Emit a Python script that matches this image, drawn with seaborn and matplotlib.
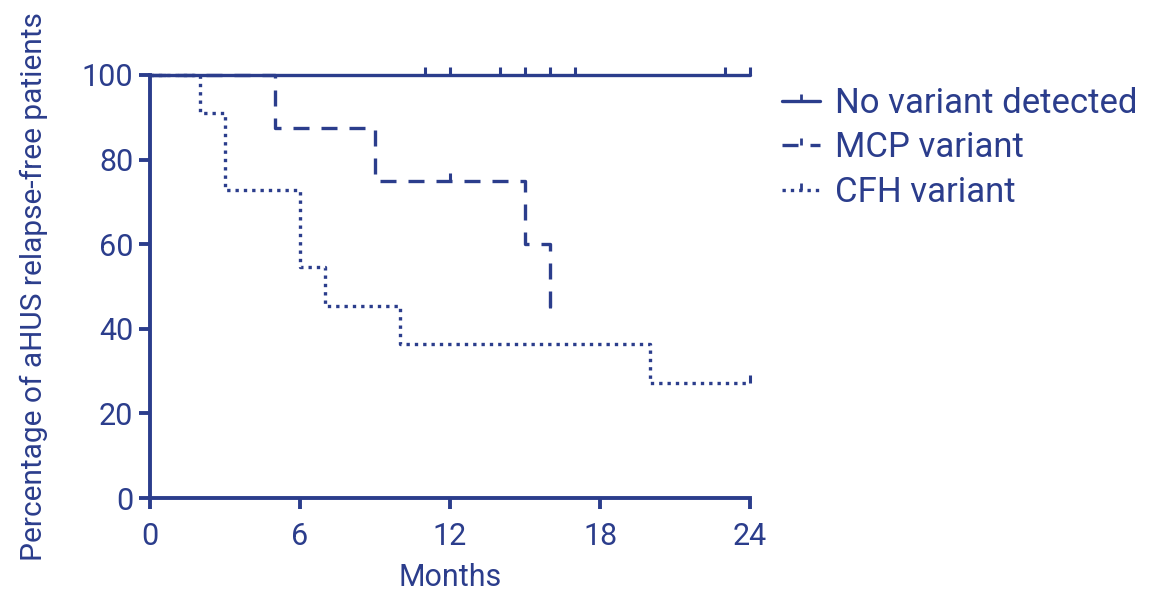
import matplotlib
matplotlib.use("Agg")
import matplotlib.pyplot as plt
import seaborn as sns
import pandas as pd
from matplotlib.path import Path
from matplotlib.lines import Line2D

# Data (Kaplan-Meier step points, months / percent)
none_t = [0, 24]
none_s = [100, 100]
none_cens_t = [11, 12, 14, 15, 16, 17, 23, 24]
none_cens_s = [100, 100, 100, 100, 100, 100, 100, 100]

mcp_t = [0, 5, 9, 15, 16]
mcp_s = [100, 87.5, 75, 60, 45]
mcp_cens_t = [12, 16]
mcp_cens_s = [75, 45]

cfh_t = [0, 2, 3, 6, 7, 10, 20, 24]
cfh_s = [100, 90.9, 72.7, 54.5, 45.5, 36.4, 27.3, 27.3]
cfh_cens_t = [24]
cfh_cens_s = [27.3]

labels = ["No variant detected", "MCP variant", "CFH variant"]
x_ticks = [0, 6, 12, 18, 24]
y_ticks = [0, 20, 40, 60, 80, 100]

COLOR = "#2B3D8C"

sns.set_style("ticks")
plt.rcParams['font.family'] = ['Roboto', 'DejaVu Sans']
plt.rcParams['text.color'] = COLOR

fig = plt.figure(figsize=(11.49, 5.93), dpi=100)
ax = fig.add_axes([150/1149, 95/593, 600/1149, 423/593])

lw = 2.4
tick_marker = Path([(0, 0), (0, 1)], [Path.MOVETO, Path.LINETO])

series = [
    (none_t, none_s, none_cens_t, none_cens_s, "-"),
    (mcp_t, mcp_s, mcp_cens_t, mcp_cens_s, (0, (4.8, 3.6))),
    (cfh_t, cfh_s, cfh_cens_t, cfh_cens_s, (0, (1.0, 1.5))),
]

for (t, s, ct, cs, ls), lab in zip(series, labels):
    df = pd.DataFrame({"t": t, "s": s})
    sns.lineplot(data=df, x="t", y="s", ax=ax, color=COLOR, linewidth=lw,
                 linestyle=ls, drawstyle="steps-post", clip_on=False,
                 estimator=None, sort=False, legend=False, dash_capstyle="butt")
    cdf = pd.DataFrame({"t": ct, "s": cs})
    sns.lineplot(data=cdf, x="t", y="s", ax=ax, color=COLOR, linestyle="none",
                 marker=tick_marker, markersize=12, markeredgewidth=2.2,
                 markeredgecolor=COLOR, clip_on=False, estimator=None,
                 legend=False)

ax.set_xlim(0, 24)
ax.set_ylim(0, 100)
ax.set_xticks(x_ticks)
ax.set_yticks(y_ticks)
sns.despine(ax=ax)
for sp in ["left", "bottom"]:
    ax.spines[sp].set_linewidth(2.8)
    ax.spines[sp].set_color(COLOR)
ax.tick_params(axis="both", colors=COLOR, labelcolor=COLOR, length=8,
               width=2.8, labelsize=22, direction="out")
ax.tick_params(axis="x", pad=9)
ax.tick_params(axis="y", pad=4)
ax.set_xlabel("Months", fontsize=22, color=COLOR, labelpad=9)
ax.set_ylabel("Percentage of aHUS relapse-free patients", fontsize=21.5,
              color=COLOR, labelpad=24)

handles = [Line2D([0], [0], color=COLOR, lw=lw, linestyle=s[4],
                  marker=tick_marker, markersize=10, markeredgewidth=2,
                  markeredgecolor=COLOR, dash_capstyle="butt") for s in series]
leg = ax.legend(handles, labels, loc="upper left", bbox_to_anchor=(1.03, 1.005),
                frameon=False, fontsize=25, handlelength=1.1, handletextpad=0.43,
                labelspacing=0.33, borderaxespad=0, numpoints=1)
for txt in leg.get_texts():
    txt.set_color(COLOR)

fig.savefig("out.png", dpi=100)
